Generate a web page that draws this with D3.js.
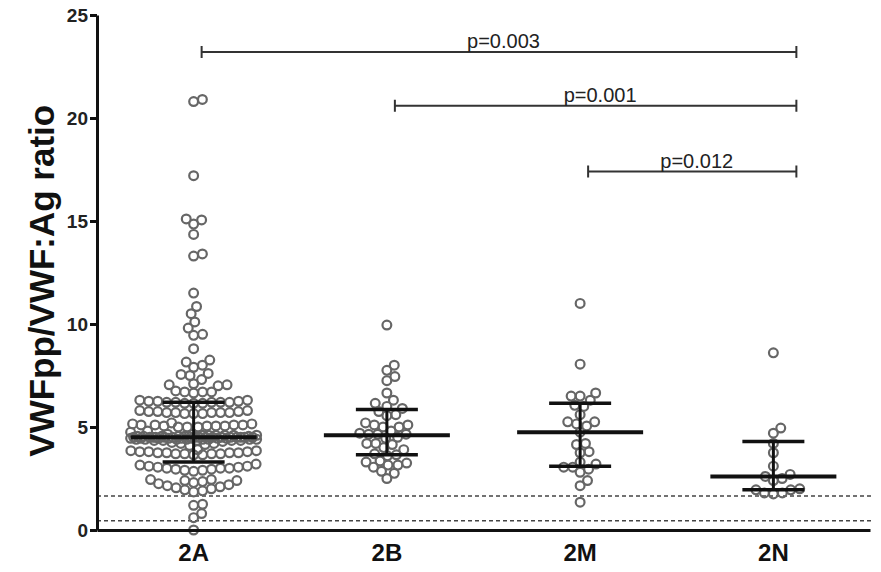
<!DOCTYPE html>
<html>
<head>
<meta charset="utf-8">
<script src="https://cdn.jsdelivr.net/npm/d3@7"></script>
<style>
body{margin:0;background:#fff}
svg{display:block;font-family:"Liberation Sans",Arial,Helvetica,sans-serif}
</style>
</head>
<body>
<div id="chart"></div>
<script>

var groups = ["2A","2B","2M","2N"];

// ratio values, one list per subtype
var vals2A = [20.9,20.8,17.2,15.1,15.05,14.85,14.35,13.4,13.3,11.5,10.85,10.5,10.1,9.8,9.5,9.45,8.8,8.25,8.15,8.0,7.9,7.6,7.55,7.5,7.3,
  7.1,7.05,7.0,7.05,
  6.75,6.7,6.7,6.65,6.7,
  6.15,6.2,6.25,6.2,6.3,6.2,6.15,6.25,6.2,6.3,6.2,6.25,6.15,
  5.65,5.7,5.75,5.7,5.8,5.7,5.65,5.75,5.7,5.8,5.7,5.75,5.65,
  5.0,5.05,5.1,5.05,5.15,5.1,5.0,5.1,5.05,5.15,5.1,5.0,5.2,5.05,
  4.65,4.65,4.6,4.6,4.6,4.6,4.55,4.55,4.55,4.55,4.55,4.5,4.5,4.5,4.5,4.5,4.5,4.5,4.5,4.5,
  4.5,4.5,4.5,4.45,4.45,4.45,4.45,4.45,4.45,4.4,4.4,4.4,4.4,4.4,4.4,4.35,4.35,4.35,4.35,4.35,
  4.6,4.55,4.5,4.45,4.4,4.5,4.6,4.4,4.5,4.55,4.45,4.5,
  4.3,4.25,4.2,4.2,4.15,4.1,4.75,4.8,
  3.65,3.7,3.7,3.75,3.75,3.8,3.8,3.85,3.7,3.75,3.8,3.65,3.9,3.75,3.85,3.7,
  2.85,2.9,2.9,2.95,3.0,3.0,3.05,3.05,3.1,3.1,3.15,3.0,2.95,3.2,
  1.85,1.9,1.95,2.0,2.05,2.1,2.15,2.2,2.25,2.3,2.35,2.4,2.4,2.45,2.45,
  1.25,1.2,0.8,0.6,0.0];
var vals2B = [9.95,8.0,7.75,7.45,7.25,6.65,6.3,6.15,6.0,5.9,5.75,5.6,5.55,5.2,5.1,5.1,5.0,5.0,4.8,4.7,4.65,4.65,4.65,
  4.5,4.45,4.2,4.2,4.15,4.0,3.9,3.7,3.65,3.6,3.35,3.3,3.25,3.15,3.15,3.05,2.85,2.75,2.5];
var vals2M = [11.0,8.05,6.65,6.5,6.5,6.3,6.05,6.0,5.6,5.25,5.15,5.05,5.25,4.75,4.2,4.15,3.8,3.75,
  3.3,3.2,3.05,3.05,2.95,2.8,2.4,2.15,1.35];
var vals2N = [8.6,4.95,4.7,4.2,3.75,3.1,2.7,2.6,2.5,2.4,2.0,1.95,1.8,1.75,1.8,1.95];
var values = [vals2A, vals2B, vals2M, vals2N];

// median with interquartile range
var medians = [4.5, 4.6, 4.75, 2.6];
var q1 = [3.3, 3.65, 3.1, 1.95];
var q3 = [6.2, 5.85, 6.15, 4.3];

// dashed reference lines
var cutoffs = [1.65, 0.45];

var yTicks = [0,5,10,15,20,25];

// significance brackets
var compFrom = ["2A","2B","2M"];
var compTo = ["2N","2N","2N"];
var compLabel = ["p=0.003","p=0.001","p=0.012"];
var compY = [23.2, 20.6, 17.4];

var W = 881, H = 572;
var margin = {l:97, r:11, t:15, b:42};

var svg = d3.select("#chart").append("svg")
  .attr("width", W).attr("height", H)
  .attr("viewBox", "0 0 "+W+" "+H);

var x = d3.scaleBand().domain(groups).range([margin.l, W-margin.r]).padding(0);
var y = d3.scaleLinear().domain([0,25]).range([H-margin.b, margin.t]);
var cx = function(g){ return x(g) + x.bandwidth()/2; };

// reference lines
svg.selectAll(".cut").data(cutoffs).enter().append("line")
  .attr("class","cut")
  .attr("x1", margin.l).attr("x2", W-margin.r+2)
  .attr("y1", function(d){return y(d)}).attr("y2", function(d){return y(d)})
  .style("stroke","#444").style("stroke-width",1.6).style("stroke-dasharray","4,3");

// simple beeswarm: lowest values first, nearest free spot to the centre
function swarm(vals, D, maxW){
  var pts = vals.map(function(v){return {v:v, y:y(v)}}).sort(function(a,b){return a.v-b.v});
  var placed = [];
  pts.forEach(function(p){
    var cands = [0];
    placed.forEach(function(q){
      var dy = Math.abs(q.y-p.y);
      if(dy < D){ var dx = Math.sqrt(D*D-dy*dy); cands.push(q.dx+dx, q.dx-dx); }
    });
    cands.sort(function(a,b){return Math.abs(a)-Math.abs(b)});
    var best = null;
    for(var i=0;i<cands.length;i++){
      var c = cands[i];
      if(Math.abs(c) > maxW+0.01) break;
      var ok = placed.every(function(q){var a=q.dx-c, b=q.y-p.y; return a*a+b*b >= D*D-0.01;});
      if(ok){best=c;break;}
    }
    if(best===null){
      var bs = -1;
      for(var c2=-maxW;c2<=maxW;c2+=1){
        var m = Infinity;
        placed.forEach(function(q){var d=Math.hypot(q.dx-c2,q.y-p.y); if(d<m)m=d;});
        if(m>bs){bs=m;best=c2;}
      }
    }
    p.dx = best;
    placed.push(p);
  });
  return placed;
}

var pointData = [];
groups.forEach(function(g,i){
  swarm(values[i], 9, 63).forEach(function(p){ pointData.push({g:g, y:p.y, dx:p.dx}); });
});

svg.selectAll(".pt").data(pointData).enter().append("circle")
  .attr("class","pt")
  .attr("cx", function(d){return cx(d.g)+d.dx})
  .attr("cy", function(d){return d.y})
  .attr("r", 4.4)
  .style("fill","none")
  .style("stroke","#666")
  .style("stroke-width",2.2);

// median and IQR bars
var bars = svg.selectAll(".bar").data(groups).enter().append("g").attr("class","bar");
bars.append("line")
  .attr("x1", function(d){return cx(d)}).attr("x2", function(d){return cx(d)})
  .attr("y1", function(d,i){return y(q1[i])}).attr("y2", function(d,i){return y(q3[i])})
  .style("stroke","#111").style("stroke-width",3);
bars.append("line")
  .attr("x1", function(d){return cx(d)-63}).attr("x2", function(d){return cx(d)+63})
  .attr("y1", function(d,i){return y(medians[i])}).attr("y2", function(d,i){return y(medians[i])})
  .style("stroke","#111").style("stroke-width",4);
[q1,q3].forEach(function(arr){
  bars.append("line")
    .attr("x1", function(d){return cx(d)-31}).attr("x2", function(d){return cx(d)+31})
    .attr("y1", function(d,i){return y(arr[i])}).attr("y2", function(d,i){return y(arr[i])})
    .style("stroke","#111").style("stroke-width",3.5);
});

// axes
var yAxis = d3.axisLeft(y).tickValues(yTicks).tickSize(7).tickSizeOuter(0).tickPadding(2);
var gy = svg.append("g").attr("transform","translate("+margin.l+",0)").call(yAxis).attr("font-family",null);
gy.select(".domain").style("stroke","#111").style("stroke-width",3);
gy.selectAll(".tick line").style("stroke","#111").style("stroke-width",3);
gy.selectAll(".tick text").style("font-size","19px").style("font-weight","bold").style("fill","#222");

var xAxis = d3.axisBottom(x).tickSize(0).tickSizeOuter(0).tickPadding(14);
var gx = svg.append("g").attr("transform","translate(0,"+y(0)+")").call(xAxis).attr("font-family",null);
gx.select(".domain").style("stroke","#111").style("stroke-width",3);
gx.selectAll(".tick text").style("font-size","24px").style("font-weight","bold").style("fill","#111");

svg.append("text")
  .attr("transform","translate(54,"+(y(12.1))+") rotate(-90)")
  .attr("text-anchor","middle")
  .style("font-size","35px").style("font-weight","bold").style("fill","#111")
  .text("VWFpp/VWF:Ag ratio");

// brackets
var br = svg.selectAll(".br").data(compLabel).enter().append("g").attr("class","br");
br.append("path")
  .attr("d", function(d,i){
    var x1 = cx(compFrom[i])+8, x2 = cx(compTo[i])+23, yy = y(compY[i]);
    return "M"+x1+","+(yy-6)+"V"+(yy+6)+"M"+x1+","+yy+"H"+x2+"M"+x2+","+(yy-6)+"V"+(yy+6);
  })
  .style("fill","none").style("stroke","#333").style("stroke-width",2);
br.append("text")
  .attr("x", function(d,i){return (cx(compFrom[i])+cx(compTo[i]))/2+20})
  .attr("y", function(d,i){return y(compY[i])-4})
  .attr("text-anchor","middle")
  .style("font-size","20px").style("fill","#222")
  .text(function(d){return d});

</script>
</body>
</html>
